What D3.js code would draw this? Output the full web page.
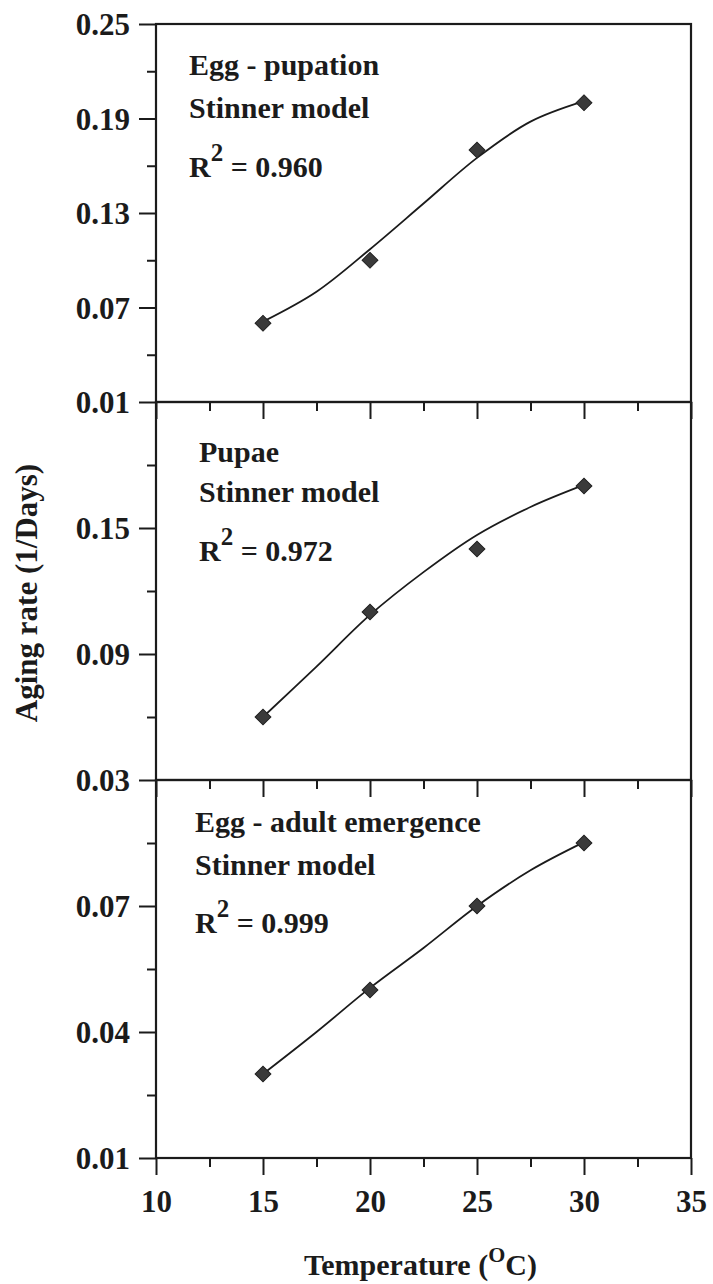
<!DOCTYPE html>
<html>
<head>
<meta charset="utf-8">
<script src="https://cdn.jsdelivr.net/npm/d3@7"></script>
<style>
  html, body { margin: 0; padding: 0; background: #ffffff; }
  svg { display: block; }
  text { font-family: "Liberation Serif", "Times New Roman", serif; font-weight: bold; fill: #1b1b1b; }
</style>
</head>
<body>
<svg id="chart" width="713" height="1284"></svg>
<script>
// Observed aging rates at each rearing temperature
const temps = [15, 20, 25, 30];
const eggPupation = [0.06, 0.10, 0.17, 0.20];
const pupae = [0.06, 0.11, 0.14, 0.17];
const eggAdult = [0.03, 0.05, 0.07, 0.085];

// Fitted Stinner model curves
const fitTemps = [15, 17.5, 20, 22.5, 25, 27.5, 30];
const eggPupationFit = [0.061, 0.080, 0.107, 0.136, 0.165, 0.188, 0.201];
const pupaeFit = [0.060, 0.084, 0.1086, 0.129, 0.1467, 0.160, 0.1705];
const eggAdultFit = [0.030, 0.040, 0.0505, 0.060, 0.070, 0.0785, 0.0852];

// Panel annotations
const panelTitles = ["Egg - pupation", "Pupae", "Egg - adult emergence"];
const modelName = "Stinner model";
const r2Values = ["0.960", "0.972", "0.999"];

// Axis ranges and tick labels
const yDomains = [[0.01, 0.25], [0.03, 0.21], [0.01, 0.10]];
const yMajorTicks = [[0.01, 0.07, 0.13, 0.19, 0.25], [0.03, 0.09, 0.15], [0.01, 0.04, 0.07]];
const yMinorTicks = [[0.04, 0.10, 0.16, 0.22], [0.06, 0.12, 0.18], [0.025, 0.055, 0.085]];
const yTickLabels = [["0.01", "0.07", "0.13", "0.19", "0.25"], ["0.03", "0.09", "0.15"], ["0.01", "0.04", "0.07"]];
const xMajorTicks = [10, 15, 20, 25, 30, 35];
const xMinorTicks = [12.5, 17.5, 22.5, 27.5, 32.5];
const xTickLabels = ["10", "15", "20", "25", "30", "35"];
const xTitle = "Temperature (";
const xTitleSup = "O";
const xTitleEnd = "C)";
const yTitle = "Aging rate (1/Days)";

const observed = [eggPupation, pupae, eggAdult];
const fitted = [eggPupationFit, pupaeFit, eggAdultFit];

// Layout
const left = 156, right = 691;
const panelTop = 24, panelH = 378;
const textX = [189, 199, 195];
const textOffsets = [[51, 94, 153], [60, 100, 159], [52, 95, 153]];
const ink = "#1b1b1b";

const svg = d3.select("#chart");
const x = d3.scaleLinear().domain([10, 35]).range([left, right]);

for (let p = 0; p < 3; p++) {
  const top = panelTop + p * panelH;
  const bottom = top + panelH;
  const y = d3.scaleLinear().domain(yDomains[p]).range([bottom, top]);
  const g = svg.append("g");

  // frame
  g.append("rect")
    .attr("x", left).attr("y", top)
    .attr("width", right - left).attr("height", panelH)
    .attr("fill", "none").attr("stroke", ink).attr("stroke-width", 2.2);

  // y axis: major ticks with labels
  const yMajor = d3.axisLeft(y).tickValues(yMajorTicks[p])
    .tickFormat((d, i) => yTickLabels[p][i]).tickSize(17).tickPadding(9);
  const ya = g.append("g").attr("transform", `translate(${left},0)`).call(yMajor);
  ya.select(".domain").remove();
  ya.selectAll("line").attr("stroke", ink).attr("stroke-width", 2);
  ya.selectAll("text").attr("font-size", 31).attr("font-family", null).attr("fill", ink)
    .attr("dy", "0.34em");

  // y axis: minor ticks
  const yMinor = d3.axisLeft(y).tickValues(yMinorTicks[p]).tickSize(9).tickFormat("");
  const ym = g.append("g").attr("transform", `translate(${left},0)`).call(yMinor);
  ym.select(".domain").remove();
  ym.selectAll("line").attr("stroke", ink).attr("stroke-width", 2);

  // x axis ticks at the panel bottom
  const xMajor = d3.axisBottom(x).tickValues(xMajorTicks).tickSize(17)
    .tickFormat((d, i) => p === 2 ? xTickLabels[i] : "").tickPadding(10);
  const xa = g.append("g").attr("transform", `translate(0,${bottom})`).call(xMajor);
  xa.select(".domain").remove();
  xa.selectAll("line").attr("stroke", ink).attr("stroke-width", 2);
  xa.selectAll("text").attr("font-size", 31).attr("font-family", null).attr("fill", ink)
    .attr("dy", "0.88em");

  const xMinor = d3.axisBottom(x).tickValues(xMinorTicks).tickSize(9).tickFormat("");
  const xm = g.append("g").attr("transform", `translate(0,${bottom})`).call(xMinor);
  xm.select(".domain").remove();
  xm.selectAll("line").attr("stroke", ink).attr("stroke-width", 2);

  // fitted curve
  const line = d3.line()
    .x((d, i) => x(fitTemps[i]))
    .y(d => y(d))
    .curve(d3.curveCatmullRom.alpha(0.5));
  g.append("path")
    .datum(fitted[p])
    .attr("d", line)
    .attr("fill", "none").attr("stroke", ink).attr("stroke-width", 1.8);

  // observed points as diamonds
  const sym = d3.symbol().type(d3.symbolSquare).size(125);
  g.selectAll("path.pt")
    .data(observed[p])
    .join("path")
    .attr("class", "pt")
    .attr("d", sym)
    .attr("transform", (d, i) => `translate(${x(temps[i])},${y(d)}) rotate(45)`)
    .attr("fill", "#3a3a3a").attr("stroke", "#222").attr("stroke-width", 1);

  // annotations
  const tx = textX[p];
  const off = textOffsets[p];
  g.append("text").attr("x", tx).attr("y", top + off[0]).attr("font-size", 30).text(panelTitles[p]);
  g.append("text").attr("x", tx).attr("y", top + off[1]).attr("font-size", 30).text(modelName);
  const r2 = g.append("text").attr("x", tx).attr("y", top + off[2]).attr("font-size", 30);
  r2.append("tspan").text("R");
  r2.append("tspan").attr("font-size", 25).attr("dy", -16).text("2");
  r2.append("tspan").attr("dy", 16).text(" = " + r2Values[p]);
}

// axis titles
const xt = svg.append("text").attr("x", (left + right) / 2 - 3).attr("y", 1275)
  .attr("text-anchor", "middle").attr("font-size", 30);
xt.append("tspan").text(xTitle);
xt.append("tspan").attr("font-size", 22).attr("dy", -13).text(xTitleSup);
xt.append("tspan").attr("dy", 13).text(xTitleEnd);

svg.append("text")
  .attr("transform", `translate(37,${panelTop + 1.5 * panelH + 2}) rotate(-90)`)
  .attr("text-anchor", "middle").attr("font-size", 31)
  .text(yTitle);
</script>
</body>
</html>
